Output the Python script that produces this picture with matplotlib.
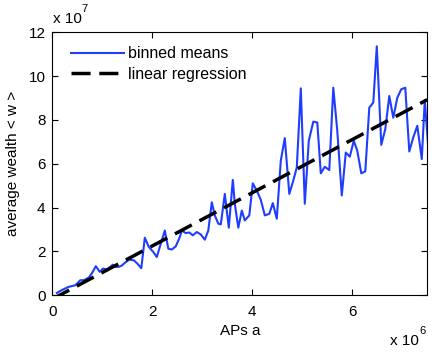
import matplotlib
matplotlib.use("Agg")
import matplotlib.pyplot as plt
import numpy as np

plt.rcParams['font.family'] = ['Liberation Sans', 'DejaVu Sans']

# APs a (units of 1e6) and binned mean wealth (units of 1e7)
aps = [0.09,0.19,0.33,0.46,0.56,0.63,0.73,0.79,0.87,0.95,1.01,1.09,1.16,1.21,1.26,1.33,1.39,1.47,1.54,1.63,
       1.70,1.78,1.85,1.93,2.02,2.09,2.15,2.25,2.32,2.39,2.47,2.55,2.59,2.67,2.74,2.81,2.89,2.97,3.05,3.12,
       3.19,3.25,3.32,3.37,3.45,3.53,3.61,3.65,3.72,3.79,3.85,3.94,4.01,4.09,4.17,4.25,4.34,4.41,4.49,4.57,
       4.65,4.74,4.82,4.89,4.97,5.05,5.13,5.22,5.30,5.37,5.45,5.54,5.62,5.70,5.79,5.87,5.95,6.03,6.10,6.18,
       6.26,6.34,6.42,6.49,6.58,6.66,6.74,6.82,6.90,6.98,7.06,7.14,7.22,7.30,7.39,7.45,7.52]
wealth = [0.10,0.23,0.38,0.45,0.68,0.68,0.80,0.99,1.32,1.06,1.21,1.17,1.29,1.39,1.29,1.29,1.35,1.51,1.62,1.59,
          1.44,1.23,2.62,2.20,1.97,1.74,2.20,2.95,2.12,2.08,2.23,2.65,2.95,2.83,2.86,2.73,2.88,2.77,2.53,2.95,
          4.24,3.64,3.26,3.23,4.62,3.08,5.26,4.17,3.08,3.86,3.41,3.64,5.10,4.77,4.35,3.64,3.71,4.20,3.49,6.14,
          7.17,4.62,5.23,5.83,9.44,4.17,7.05,7.92,7.88,5.56,5.86,5.71,9.47,7.50,4.55,6.51,6.32,7.05,6.59,5.56,
          5.65,8.56,8.79,11.36,6.86,7.58,9.09,8.10,9.01,9.40,9.47,6.56,7.20,7.73,6.21,8.90,6.74]
reg_slope = 1.214      # 1e7 per 1e6
reg_intercept = -0.182 # 1e7
x_ticks = [0, 2, 4, 6]
y_ticks = [0, 2, 4, 6, 8, 10, 12]

W, H = 436, 353
fig = plt.figure(figsize=(W / 100, H / 100), dpi=100)
ax = fig.add_axes([0.12, 0.164, 0.860, 0.7445])

ax.plot(aps, wealth, color='#1f3dff', lw=1.5, label='binned means')
xr = np.array([0.0, 7.5])
ax.plot(xr, reg_slope * xr + reg_intercept, color='black', lw=2.5,
        linestyle=(0, (5.5, 2.5)), label='linear regression')

ax.set_xlim(0, 7.5)
ax.set_ylim(0, 12)
ax.set_xticks(x_ticks)
ax.set_yticks(y_ticks)
ax.tick_params(direction='in', top=True, right=True, length=4, labelsize=11, width=0.8)
ax.tick_params(axis='x', pad=7)
ax.tick_params(axis='y', pad=5)
for s in ax.spines.values():
    s.set_linewidth(0.8)

ax.set_xlabel('APs a', fontsize=11, labelpad=4)
ax.set_ylabel('average wealth < w >', fontsize=11, labelpad=6)

# offset labels (pixel positions converted to figure fraction)
fig.text(53 / W, 1 - 23 / H, 'x 10', fontsize=11, ha='left', va='baseline')
fig.text(81 / W, 1 - 12 / H, '7', fontsize=8, ha='left', va='baseline')
fig.text(390 / W, 8 / H, 'x 10', fontsize=11, ha='left', va='baseline')
fig.text(419 / W, 19 / H, '6', fontsize=8, ha='left', va='baseline')

leg = ax.legend(loc='upper left', frameon=False, fontsize=11.5, handlelength=3.3,
                borderaxespad=0.3, labelspacing=0.35, handletextpad=0.3,
                bbox_to_anchor=(0.02, 0.99))

fig.savefig('out.png', dpi=100)
